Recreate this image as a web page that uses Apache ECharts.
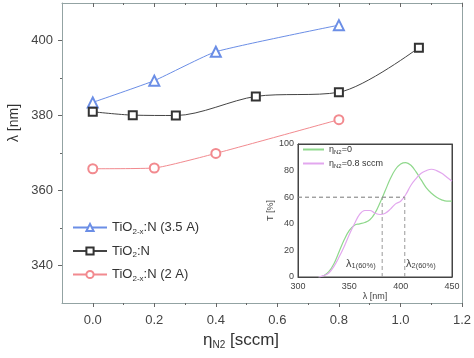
<!DOCTYPE html>
<html>
<head>
<meta charset="utf-8">
<script src="https://cdn.jsdelivr.net/npm/echarts@6/dist/echarts.min.js"></script>
<style>
html,body{margin:0;padding:0;background:#fff;}
#chart{width:474px;height:358px;}
</style>
</head>
<body>
<div id="chart"></div>
<script>
// ---- main chart data ----
const blueX = [0.0, 0.2, 0.4, 0.8];
const blueY = [383.5, 389.3, 397.0, 404.1];
const blackX = [0.0, 0.13, 0.27, 0.53, 0.8, 1.06];
const blackY = [381.0, 380.1, 380.0, 385.1, 386.2, 398.1];
const redX = [0.0, 0.2, 0.4, 0.8];
const redY = [365.8, 366.0, 369.9, 378.9];
const seriesNames = ['TiO2-x:N (3.5 A)', 'TiO2:N', 'TiO2-x:N (2 A)'];

// main axis ticks
const xMajor = [0.0, 0.2, 0.4, 0.6, 0.8, 1.0, 1.2];
const xMinor = [0.1, 0.3, 0.5, 0.7, 0.9, 1.1];
const yMajor = [340, 360, 380, 400];
const yMinor = [350, 370, 390];

// ---- inset data ----
const wl   = [320,325,330,335,340,345,350,355,360,365,370,375,380,385,390,395,400,405,410,415,420,425,430,435,440,445,450];
const T0   = [0,1,4,10,19,28,35,39,40,41,43,48,56,65,74,81,85,86,84,79,73,67,63,60,58,57,57];
const T08  = [0,1,3,8,15,23,32,40,47,50,50,48,47,48,51,55,57,62,69,74,78,80,81,80,78,75,72];
const insetNames = ['eta0', 'eta08'];
const level60 = 60;
const lambda1 = 382;
const lambda2 = 404;
const insetXTicks = [300, 350, 400, 450];
const insetYTicks = [0, 20, 40, 60, 80, 100];

const zip = (a, b) => a.map((v, i) => [v, b[i]]);
const FONT = 'Liberation Sans';
const frameColor = '#93a3a3';
const labelColor = '#444';

const chart = echarts.init(document.getElementById('chart'), null, {renderer: 'canvas'});

const legendRich = {
  b: {fontSize: 13, lineHeight: 16, color: '#333', fontFamily: FONT},
  s: {fontSize: 8, lineHeight: 8, verticalAlign: 'bottom', color: '#333', fontFamily: FONT}
};
const legendFmt = {
  'TiO2-x:N (3.5 A)': '{b|TiO}{s|2-x}{b|:N (3.5 A)}',
  'TiO2:N': '{b|TiO}{s|2}{b|:N}',
  'TiO2-x:N (2 A)': '{b|TiO}{s|2-x}{b|:N (2 A)}',
  'eta0': '{b|η}{s|N2}{b|=0}',
  'eta08': '{b|η}{s|N2}{b|=0.8 sccm}'
};
const insetRich = {
  b: {fontSize: 9, lineHeight: 11, color: '#333', fontFamily: FONT},
  s: {fontSize: 6, lineHeight: 6, verticalAlign: 'bottom', color: '#333', fontFamily: FONT}
};

const option = {
  animation: false,
  backgroundColor: '#fff',
  textStyle: {fontFamily: FONT},
  grid: [
    {left: 62, right: 11, top: 3, bottom: 55, show: false},
    {left: 298, top: 144, width: 154, height: 133, show: true, backgroundColor: '#fff', borderColor: '#444', borderWidth: 1, z: 5}
  ],
  legend: [
    {
      data: seriesNames, orient: 'vertical', left: 67, top: 216, itemWidth: 34, itemHeight: 9, itemGap: 7,
      formatter: n => legendFmt[n], textStyle: {rich: legendRich}, selectedMode: false
    },
    {
      data: insetNames, orient: 'vertical', left: 297, top: 140, itemWidth: 21, itemHeight: 8, itemGap: 4, z: 10,
      formatter: n => legendFmt[n], textStyle: {rich: insetRich}, selectedMode: false, itemStyle: {opacity: 0}
    }
  ],
  xAxis: [
    {gridIndex: 0, type: 'value', min: -0.1, max: 1.2, position: 'bottom',
      axisLine: {show: true, onZero: false, lineStyle: {color: frameColor, width: 1}},
      axisTick: {show: true, customValues: xMajor, length: 4, inside: false, lineStyle: {color: '#666'}},
      axisLabel: {show: true, customValues: xMajor, margin: 11, color: labelColor, fontSize: 13, fontFamily: FONT, formatter: v => v.toFixed(1)},
      splitLine: {show: false}},
    {gridIndex: 0, type: 'value', min: -0.1, max: 1.2, position: 'bottom',
      axisLine: {show: false, onZero: false},
      axisTick: {show: true, customValues: xMinor, length: 2, inside: false, lineStyle: {color: '#666'}},
      axisLabel: {show: false}, splitLine: {show: false}},
    {gridIndex: 0, type: 'value', min: -0.1, max: 1.2, position: 'top',
      axisLine: {show: true, onZero: false, lineStyle: {color: frameColor, width: 1}},
      axisTick: {show: true, customValues: xMajor, length: 4, inside: true, lineStyle: {color: '#666'}},
      axisLabel: {show: false}, splitLine: {show: false}},
    {gridIndex: 0, type: 'value', min: -0.1, max: 1.2, position: 'top',
      axisLine: {show: false, onZero: false},
      axisTick: {show: true, customValues: xMinor, length: 2, inside: true, lineStyle: {color: '#666'}},
      axisLabel: {show: false}, splitLine: {show: false}},
    {gridIndex: 1, type: 'value', min: 300, max: 450, interval: 50, position: 'bottom',
      axisLine: {show: true, onZero: false, lineStyle: {color: '#444'}},
      axisTick: {show: false},
      axisLabel: {show: true, customValues: insetXTicks, margin: 5, color: labelColor, fontSize: 9, fontFamily: FONT},
      name: 'λ [nm]', nameLocation: 'middle', nameGap: 10,
      nameTextStyle: {fontSize: 9, color: '#444', fontFamily: FONT},
      splitLine: {show: false}, z: 6},
    {gridIndex: 1, type: 'value', min: 300, max: 450, position: 'top',
      axisLine: {show: true, onZero: false, lineStyle: {color: '#444'}}, axisTick: {show: false}, axisLabel: {show: false}, splitLine: {show: false}, z: 6}
  ],
  yAxis: [
    {gridIndex: 0, type: 'value', min: 330, max: 410, position: 'left',
      axisLine: {show: true, onZero: false, lineStyle: {color: frameColor, width: 1}},
      axisTick: {show: true, customValues: yMajor, length: 4, lineStyle: {color: '#666'}},
      axisLabel: {show: true, customValues: yMajor, margin: 9, color: labelColor, fontSize: 13, fontFamily: FONT},
      splitLine: {show: false}},
    {gridIndex: 0, type: 'value', min: 330, max: 410, position: 'left',
      axisLine: {show: false, onZero: false},
      axisTick: {show: true, customValues: yMinor, length: 2, lineStyle: {color: '#666'}},
      axisLabel: {show: false}, splitLine: {show: false}},
    {gridIndex: 0, type: 'value', min: 330, max: 410, position: 'right',
      axisLine: {show: true, onZero: false, lineStyle: {color: frameColor, width: 1}},
      axisTick: {show: false}, axisLabel: {show: false}, splitLine: {show: false}},
    {gridIndex: 1, type: 'value', min: 0, max: 100, interval: 20, position: 'left',
      axisLine: {show: true, onZero: false, lineStyle: {color: '#444'}},
      axisTick: {show: false},
      axisLabel: {show: true, customValues: insetYTicks, margin: 4, color: labelColor, fontSize: 9, fontFamily: FONT},
      name: 'T [%]', nameLocation: 'middle', nameGap: 20,
      nameTextStyle: {fontSize: 9, color: '#444', fontFamily: FONT},
      splitLine: {show: false}, z: 6},
    {gridIndex: 1, type: 'value', min: 0, max: 100, position: 'right',
      axisLine: {show: true, onZero: false, lineStyle: {color: '#444'}}, axisTick: {show: false}, axisLabel: {show: false}, splitLine: {show: false}, z: 6}
  ],
  series: [
    {name: seriesNames[0], type: 'line', xAxisIndex: 0, yAxisIndex: 0, data: zip(blueX, blueY), smooth: 0.15,
      symbol: 'emptyTriangle', symbolSize: 10, color: '#6b8ee6',
      lineStyle: {width: 1, color: '#6b8ee6'}, itemStyle: {color: '#6b8ee6', borderWidth: 1}},
    {name: seriesNames[1], type: 'line', xAxisIndex: 0, yAxisIndex: 0, data: zip(blackX, blackY), smooth: 0.3,
      symbol: 'emptyRect', symbolSize: 8, color: '#333',
      lineStyle: {width: 1, color: '#444'}, itemStyle: {color: '#333', borderWidth: 1}},
    {name: seriesNames[2], type: 'line', xAxisIndex: 0, yAxisIndex: 0, data: zip(redX, redY), smooth: 0.15,
      symbol: 'emptyCircle', symbolSize: 9, color: '#f28a8f',
      lineStyle: {width: 1, color: '#f28a8f'}, itemStyle: {color: '#f28a8f', borderWidth: 1}},
    {name: 'eta0', type: 'line', xAxisIndex: 4, yAxisIndex: 3, data: zip(wl, T0), smooth: 0.4, symbol: 'none', z: 7,
      color: '#8fd88c', lineStyle: {width: 1.2, color: '#8fd88c'}},
    {name: 'eta08', type: 'line', xAxisIndex: 4, yAxisIndex: 3, data: zip(wl, T08), smooth: 0.4, symbol: 'none', z: 7,
      color: '#e2a7ee', lineStyle: {width: 1.2, color: '#e2a7ee'}},
    {type: 'line', xAxisIndex: 4, yAxisIndex: 3, data: [[300, level60], [lambda2, level60]], symbol: 'none', z: 8,
      lineStyle: {width: 1, type: [4, 3], color: '#777'}, silent: true},
    {type: 'line', xAxisIndex: 4, yAxisIndex: 3, data: [[lambda1, 0], [lambda1, level60]], symbol: 'none', z: 8,
      lineStyle: {width: 1, type: [4, 3], color: '#999'}, silent: true},
    {type: 'line', xAxisIndex: 4, yAxisIndex: 3, data: [[lambda2, 0], [lambda2, level60]], symbol: 'none', z: 8,
      lineStyle: {width: 1, type: [4, 3], color: '#999'}, silent: true}
  ],
  graphic: [
    {type: 'text', x: 14, y: 123, rotation: Math.PI / 2, z: 20,
      style: {text: 'λ [nm]', fontSize: 14, fill: '#333', fontFamily: FONT, align: 'center', verticalAlign: 'middle'}},
    {type: 'text', x: 203, y: 330, z: 20,
      style: {text: '{b|η}{s|N2}{b| [sccm]}', fontFamily: FONT,
        rich: {b: {fontSize: 17, lineHeight: 20, fill: '#333', fontFamily: FONT},
               s: {fontSize: 10, lineHeight: 10, verticalAlign: 'bottom', fill: '#333', fontFamily: FONT}}}},
    {type: 'text', x: 346, y: 257, z: 20,
      style: {text: '{b|λ}{s|1(60%)}', fontFamily: FONT,
        rich: {b: {fontSize: 11, lineHeight: 13, fill: '#444', fontFamily: FONT},
               s: {fontSize: 7.5, lineHeight: 8, verticalAlign: 'bottom', fill: '#444', fontFamily: FONT}}}},
    {type: 'text', x: 406, y: 257, z: 20,
      style: {text: '{b|λ}{s|2(60%)}', fontFamily: FONT,
        rich: {b: {fontSize: 11, lineHeight: 13, fill: '#444', fontFamily: FONT},
               s: {fontSize: 7.5, lineHeight: 8, verticalAlign: 'bottom', fill: '#444', fontFamily: FONT}}}}
  ]
};
option.legend[0].itemGap = 9;
chart.setOption(option);
</script>
</body>
</html>
